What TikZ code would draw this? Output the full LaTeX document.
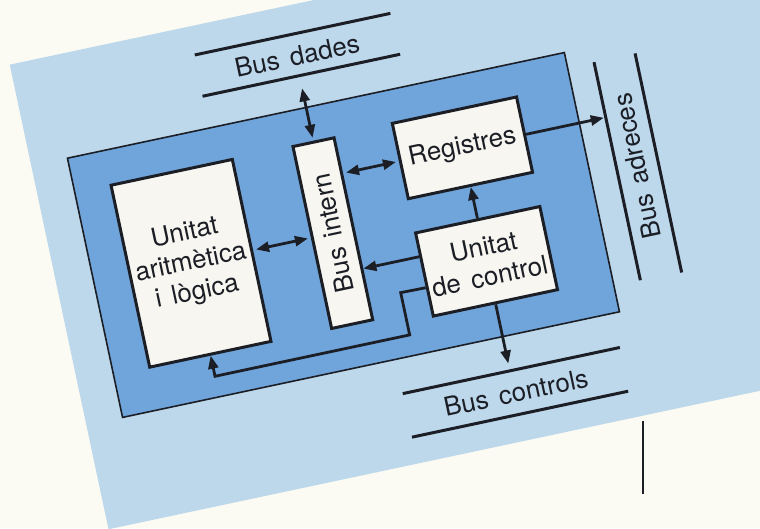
\documentclass[tikz,border=0pt]{standalone}
\usepackage{fontspec}
\setmainfont{TeX Gyre Heros}
\usepackage{graphicx}
\usetikzlibrary{arrows.meta,calc}
\definecolor{paper}{RGB}{251,250,243}
\definecolor{pagebl}{RGB}{189,216,235}
\definecolor{cpubl}{RGB}{112,165,219}
\definecolor{boxw}{RGB}{247,246,240}
\definecolor{inkc}{RGB}{28,30,38}
\newcommand\diagfont{\fontsize{26}{30}\selectfont\spaceskip=0.42em\relax}
\begin{document}
\begin{tikzpicture}[x=1pt,y=1pt,
  cpu/.style={draw=inkc, line width=1.6pt, fill=cpubl, inner sep=0pt,
    minimum width=508pt, minimum height=265pt},
  box/.style={draw=inkc, line width=3pt, fill=boxw, inner sep=0pt,
    align=center, font=\diagfont, text=inkc},
  txt/.style={font=\diagfont, text=inkc, inner sep=0pt},
  busline/.style={draw=inkc, line width=3pt},
  tip/.tip={Triangle[length=13pt,width=10pt]},
  arr/.style={draw=inkc, line width=2.8pt, -tip},
  dbl/.style={draw=inkc, line width=2.8pt, tip-tip, shorten <=3pt, shorten >=3pt}]
\useasboundingbox (0,0) rectangle (760,-528);
\fill[paper] (0,0) rectangle (760,-528);
\begin{scope}
\clip (0,0) rectangle (760,-528);
\begin{scope}[shift={(343.25,-234)}, rotate=12, transform shape]
  % page background
  \fill[pagebl] (-291,235) rectangle (900,-240);
  % processor
  \node[cpu] (cpu) at (0,-1) {};
  % data bus
  \draw[busline] (-108,206) -- (92,206);
  \draw[busline] (-109,164) -- (93,164);
  \node[txt] (bd) at (-8,184) {Bus dades};
  \coordinate (bdport) at (-10,154);
  % address bus
  \draw[busline] (281,116) -- (281,-107);
  \draw[busline] (323,116) -- (323,-108);
  \node[txt, rotate=90] (ba) at (301,5) {Bus adreces};
  \coordinate (baport) at (279,59.5);
  % control bus
  \draw[busline] (25,-168.5) -- (247,-168.5);
  \draw[busline] (25,-213) -- (246,-213);
  \node[txt] (bc) at (136,-191) {Bus controls};
  \coordinate (bcport) at (134.5,-161);
  % units
  \node[box, minimum width=124pt, minimum height=186pt] (alu) at (-155,3)
    {Unitat\\aritmètica\\i lògica};
  \node[box, minimum width=42pt, minimum height=186pt] (bi) at (-10,3)
    {\rotatebox{90}{Bus intern}};
  \node[box, minimum width=127pt, minimum height=77pt] (reg) at (134.5,59.5)
    {Registres};
  \node[box, minimum width=127pt, minimum height=85pt] (uc) at (134.5,-56.5)
    {Unitat\\de control};
  % connections
  \draw[dbl] (bdport) -- (bi.north);
  \draw[dbl] (alu.east) -- (bi.west);
  \draw[dbl] ($(bi.north east)!(reg.west)!(bi.south east)$) -- (reg.west);
  \draw[arr] (reg.east) -- (baport);
  \draw[arr] (uc.north) -- (reg.south);
  \coordinate (ucA) at ($(uc.north west)!0.29!(uc.south west)$);
  \draw[arr] (ucA) -- ($(bi.north east)!(ucA)!(bi.south east)$);
  \coordinate (ucB) at ($(uc.north west)!0.65!(uc.south west)$);
  \coordinate (fb1) at (44,-69.3);
  \coordinate (fb2) at (44,-112.5);
  \coordinate (fb3) at (-155,-112.5);
  \draw[arr] (ucB) -- (fb1) -- (fb2) -- (fb3) -- (alu.south);
  \draw[arr] (uc.south) -- (bcport);
\end{scope}
\end{scope}
% gutter rule below the page
\draw[inkc, line width=2pt] (643,-421) -- (643,-494);
\end{tikzpicture}
\end{document}
